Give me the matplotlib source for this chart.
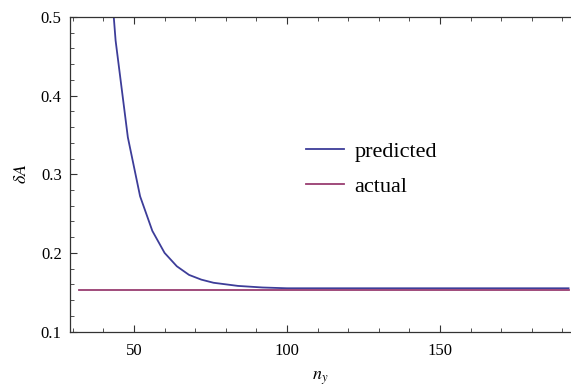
import matplotlib
matplotlib.use("Agg")
import matplotlib.pyplot as plt
from matplotlib.ticker import MultipleLocator

# data
n_pred = [32, 36, 40, 44, 48, 52, 56, 60, 64, 68, 72, 76, 80, 84, 88, 92, 96, 100,
          110, 120, 130, 140, 150, 160, 170, 180, 192]
pred = [1.55, 1.0, 0.67, 0.47, 0.347, 0.272, 0.228, 0.200, 0.183, 0.172, 0.166, 0.162,
        0.160, 0.158, 0.157, 0.156, 0.1555, 0.155, 0.155, 0.155, 0.155, 0.155, 0.155,
        0.155, 0.155, 0.155, 0.155]
n_act = [32, 192]
actual = [0.153, 0.153]
yticks = [0.1, 0.2, 0.3, 0.4, 0.5]
ytick_labels = ['0.1', '0.2', '0.3', '0.4', '0.5']

plt.rcParams['font.family'] = ['Liberation Serif', 'DejaVu Serif']
plt.rcParams['mathtext.fontset'] = 'stix'

fig = plt.figure(figsize=(5.71, 3.92), dpi=100)
ax = fig.add_axes([0.1226, 0.1543, 0.8774, 0.8023])

ax.plot(n_pred, pred, color='#3d3d99', lw=1.3, label='predicted')
ax.plot(n_act, actual, color='#993d71', lw=1.3, label='actual')

ax.set_xlim(29.1, 192.8)
ax.set_ylim(0.1, 0.5)
ax.spines['right'].set_visible(False)
for s in ('left', 'bottom', 'top'):
    ax.spines[s].set_color('#333333')
    ax.spines[s].set_linewidth(0.9)

ax.xaxis.set_major_locator(MultipleLocator(50))
ax.xaxis.set_minor_locator(MultipleLocator(10))
ax.yaxis.set_minor_locator(MultipleLocator(0.02))
ax.set_yticks(yticks)
ax.set_yticklabels(ytick_labels)
ax.tick_params(which='both', direction='in', color='#333333', labelsize=12,
               top=True, labeltop=False)
ax.tick_params(axis='x', which='major', length=5, width=0.8, pad=8)
ax.tick_params(axis='y', which='major', length=5, width=0.8, pad=6)
ax.tick_params(which='minor', length=3, width=0.6)

ax.set_xlabel(r'$n_y$', fontsize=13, labelpad=8)
ax.set_ylabel(r'$\delta A$', fontsize=13, labelpad=8)

leg = ax.legend(loc='center left', bbox_to_anchor=(0.432, 0.516), frameon=False,
                fontsize=16, handlelength=1.71, handletextpad=0.45, labelspacing=0.63)

fig.savefig('out.png', dpi=100)
